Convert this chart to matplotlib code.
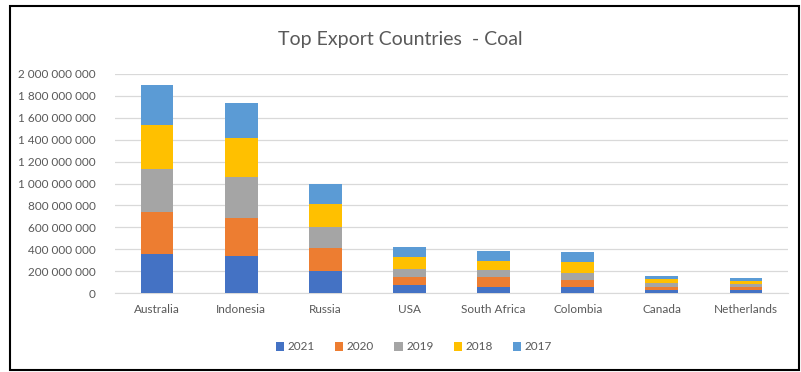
import numpy as np
import matplotlib
matplotlib.use('Agg')
import matplotlib.pyplot as plt
from matplotlib.patches import Rectangle
from matplotlib.ticker import FuncFormatter

# --- Top export countries - coal, stacked by year --- #

countries = ['Australia', 'Indonesia', 'Russia', 'USA', 'South Africa',
             'Colombia', 'Canada', 'Netherlands']
years = ['2021', '2020', '2019', '2018', '2017']

# export values per year
v2021 = [356e6, 341e6, 201e6, 73e6, 58e6, 52e6, 30e6, 25e6]
v2020 = [387e6, 347e6, 207e6, 70e6, 91e6, 67e6, 28e6, 27e6]
v2019 = [389e6, 374e6, 198e6, 73e6, 61e6, 67e6, 35e6, 28e6]
v2018 = [401e6, 351e6, 207e6, 110e6, 85e6, 94e6, 33e6, 27e6]
v2017 = [367e6, 320e6, 182e6, 91e6, 89e6, 97e6, 32e6, 27e6]

colors = ['#4472C4', '#ED7D31', '#A5A5A5', '#FFC000', '#5B9BD5']
txt = '#595959'

plt.rcParams['font.family'] = ['Lato', 'DejaVu Sans']

fig = plt.figure(figsize=(8.01, 3.72), dpi=100)
ax = fig.add_axes([115/801, 1-293/372, 673/801, 219/372])

x = np.arange(len(countries))
bottom = np.zeros(len(countries))
for vals, yr, c in zip([v2021, v2020, v2019, v2018, v2017], years, colors):
    ax.bar(x, vals, width=0.39, bottom=bottom, color=c, label=yr, zorder=3)
    bottom = bottom + np.array(vals)

ax.set_xlim(-0.5, len(countries) - 0.5)
ax.set_ylim(0, 2e9)
ax.set_yticks(np.arange(0, 2.01e9, 2e8))
ax.yaxis.set_major_formatter(FuncFormatter(lambda v, p: f'{int(round(v)):,}'.replace(',', ' ')))
ax.set_xticks(x)
ax.set_xticklabels(countries)
ax.grid(axis='y', color='#D9D9D9', lw=0.9, zorder=0)
for s in ['top', 'right', 'left']:
    ax.spines[s].set_visible(False)
ax.spines['bottom'].set_color('#D9D9D9')
ax.tick_params(axis='both', length=0, colors=txt, labelsize=8.5)
ax.tick_params(axis='y', pad=14)
ax.tick_params(axis='x', pad=8)

fig.text(0.5, 1-40/372, 'Top Export Countries  - Coal', ha='center', va='center',
         fontsize=14, color=txt)

ax.legend(loc='center', bbox_to_anchor=(414/801, 1-347/372), bbox_transform=fig.transFigure,
          ncol=5, frameon=False, fontsize=8.5, labelcolor=txt, handlelength=0.7,
          handleheight=0.7, handletextpad=0.3, columnspacing=1.7)

# outer chart border
fig.patches.append(Rectangle((10/801, 1-370/372), 789/801, 364/372, transform=fig.transFigure,
                             fill=False, edgecolor='black', lw=1.5))

fig.savefig('out.png', dpi=100)
